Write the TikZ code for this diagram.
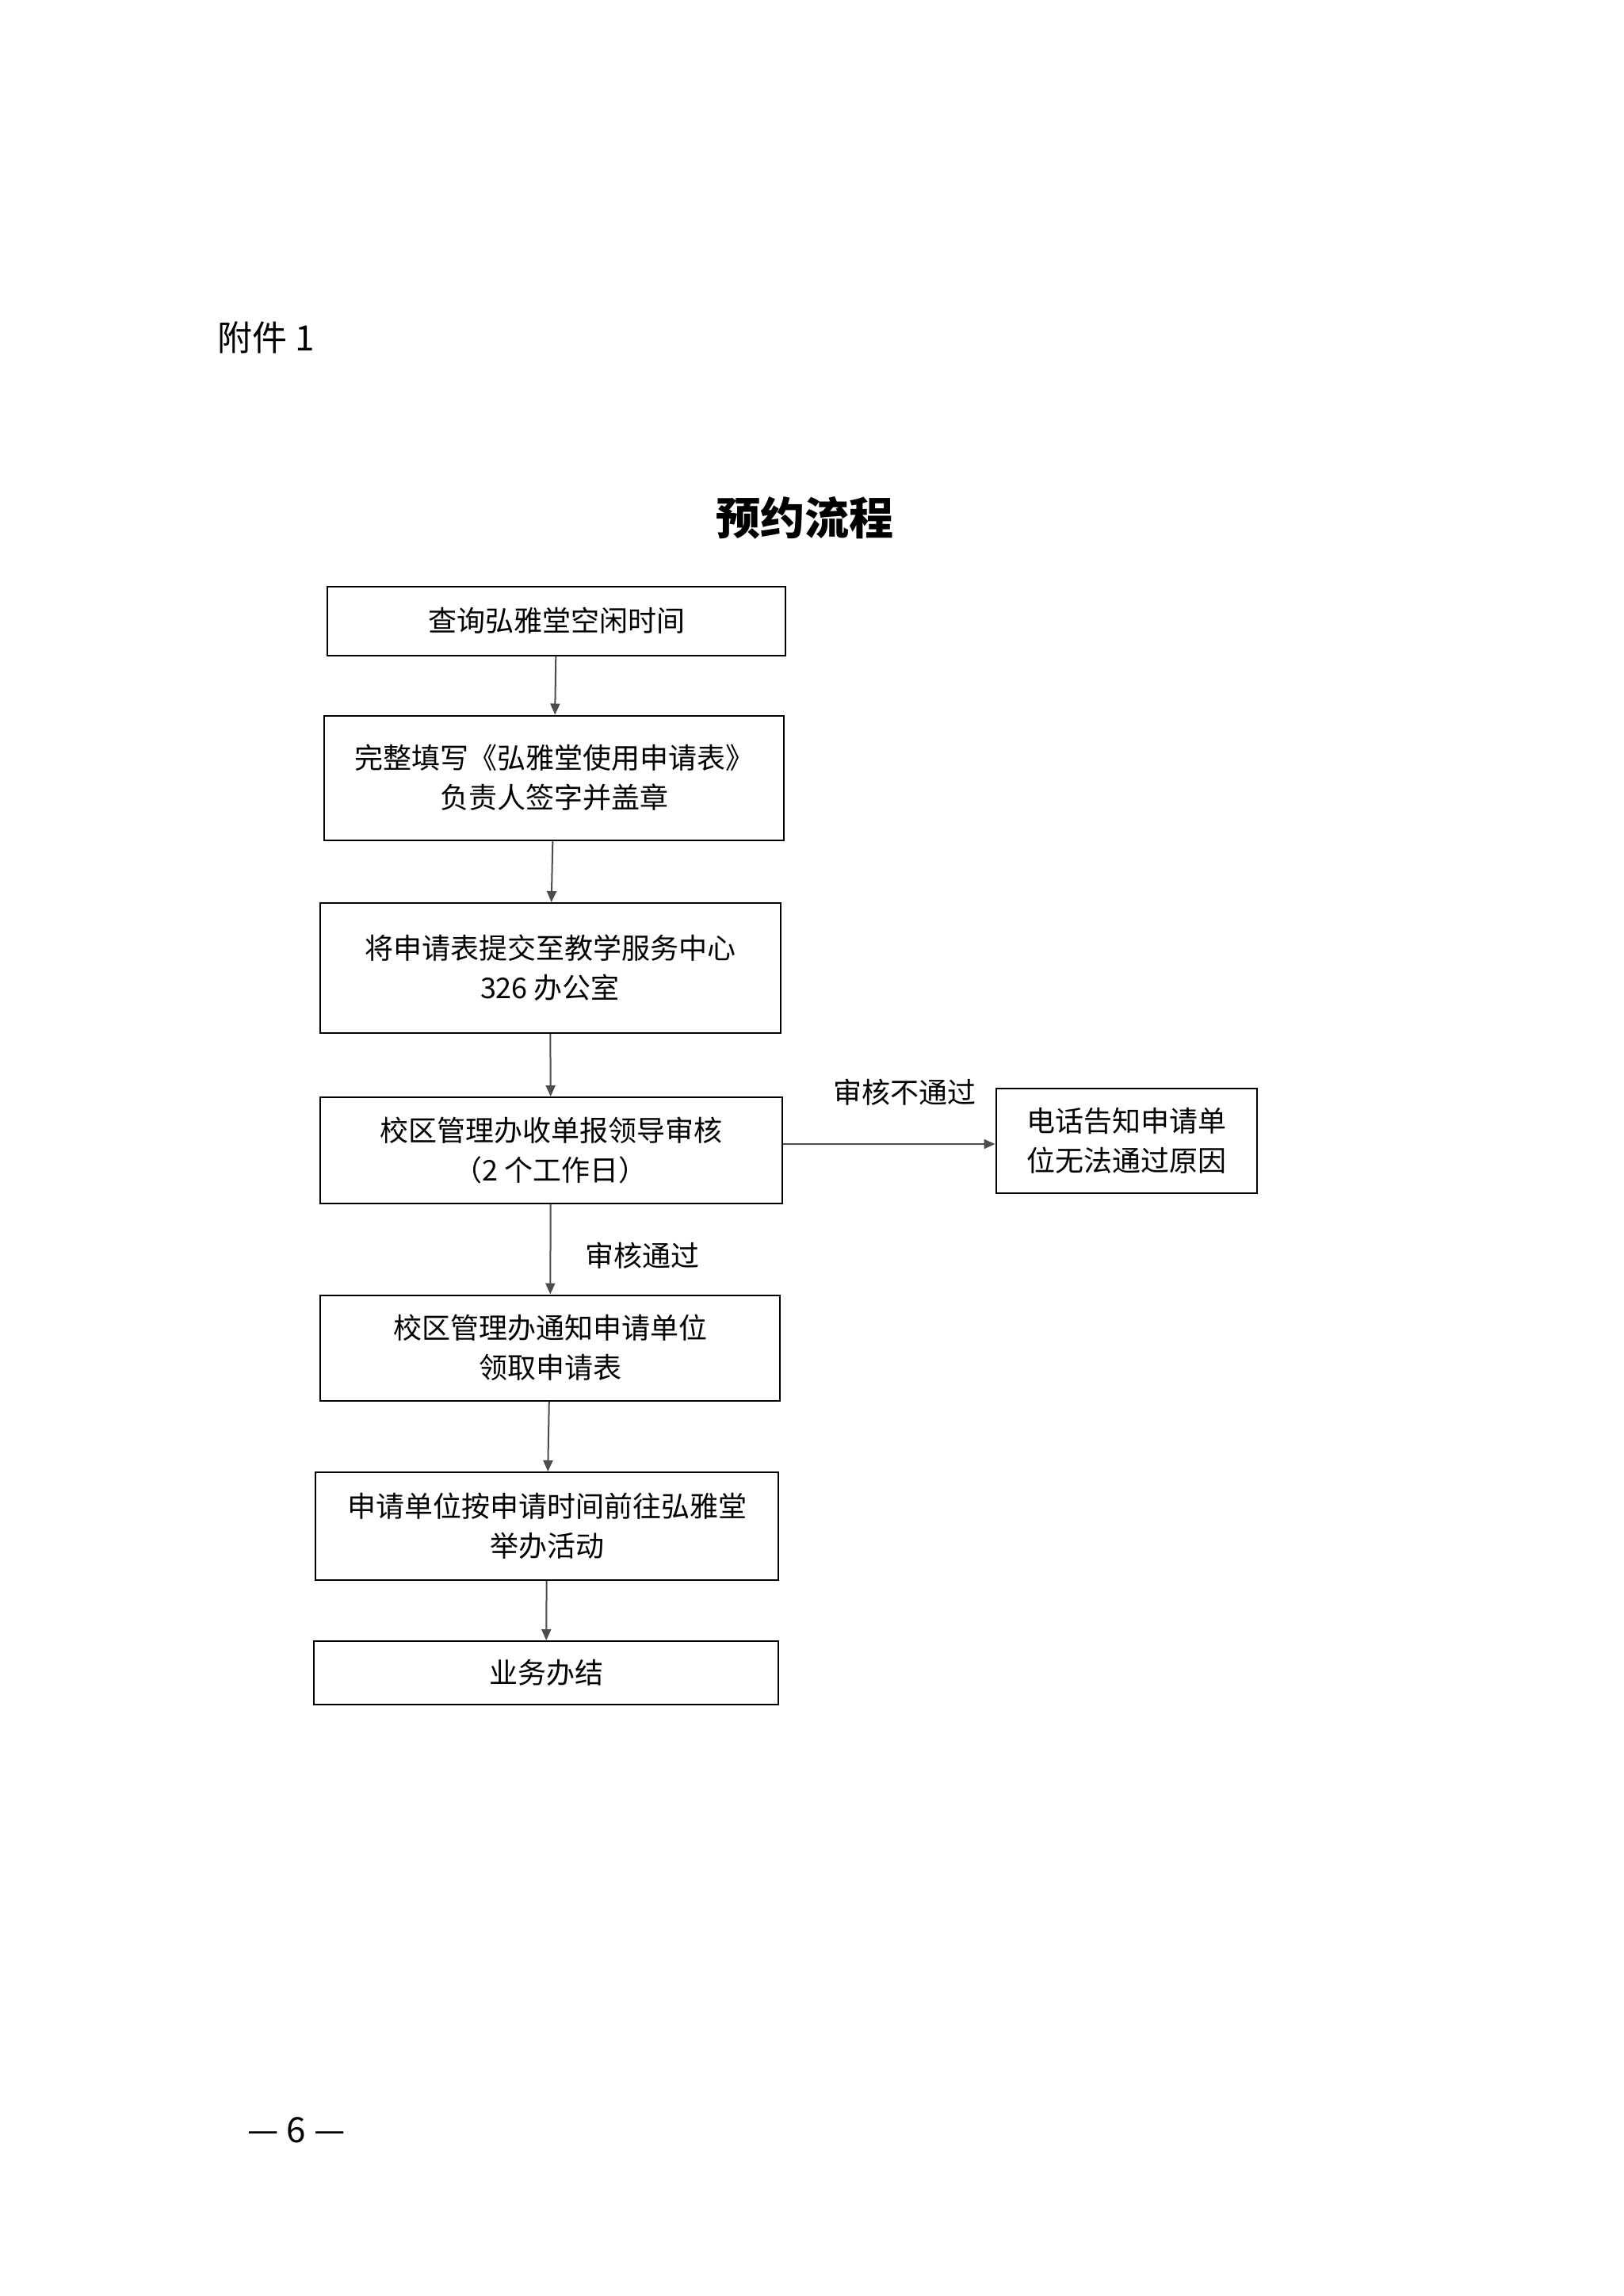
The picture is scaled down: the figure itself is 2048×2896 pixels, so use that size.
\documentclass[tikz,border=0pt]{standalone}
\usepackage{fontspec}
\setmainfont{Noto Sans CJK SC}
\newfontfamily\serifcjk{Noto Sans CJK SC}
\usetikzlibrary{arrows.meta}
\begin{document}
\begin{tikzpicture}[x=1pt,y=-1pt,
  fbox/.style={draw=black,line width=2pt,align=center,font=\fontsize{36}{50}\selectfont,inner sep=0pt},
  conn/.style={draw=black!70,line width=2pt,-{Triangle[length=14pt,width=12pt]}},
  lbl/.style={font=\fontsize{36}{44}\selectfont}]
\useasboundingbox (0,0) rectangle (2048,2896);
\fill[white] (0,0) rectangle (2048,2896);
\node[anchor=west,font=\fontsize{44}{50}\selectfont] (att) at (271,426) {附件 1};
\node[font=\fontsize{56}{64}\selectfont\bfseries] (title) at (1015,653) {预约流程};
\node[fbox,minimum width=578pt,minimum height=87pt] (b1) at (702,783) {查询弘雅堂空闲时间};
\node[fbox,minimum width=580pt,minimum height=157pt] (b2) at (699,981) {完整填写《弘雅堂使用申请表》\\负责人签字并盖章};
\node[fbox,minimum width=581pt,minimum height=164pt] (b3) at (694,1221) {将申请表提交至教学服务中心\\326 办公室};
\node[fbox,minimum width=583pt,minimum height=134pt] (b4) at (695,1451) {校区管理办收单报领导审核\\（2 个工作日）};
\node[fbox,minimum width=329pt,minimum height=132pt] (r) at (1421,1439) {电话告知申请单\\位无法通过原因};
\node[fbox,minimum width=580pt,minimum height=133pt] (b5) at (694,1700) {校区管理办通知申请单位\\领取申请表};
\node[fbox,minimum width=584pt,minimum height=136pt] (b6) at (690,1925) {申请单位按申请时间前往弘雅堂\\举办活动};
\node[fbox,minimum width=586pt,minimum height=80pt] (b7) at (689,2110) {业务办结};
\draw[conn] (b1) -- (b2);
\draw[conn] (b2) -- (b3);
\draw[conn] (b3) -- (b4);
\draw[conn] (b4) -- (b5);
\draw[conn] (b5) -- (b6);
\draw[conn] (b6) -- (b7);
\draw[conn] (b4.east |- r.west) ++(0,4) coordinate (s) (s) -- (r.west |- s);
\node[lbl] (l1) at (1141,1378) {审核不通过};
\node[lbl] (l2) at (810,1584) {审核通过};
\node[font=\fontsize{44}{50}\selectfont] (pg) at (374,2687) {— 6 —};
\end{tikzpicture}
\end{document}
